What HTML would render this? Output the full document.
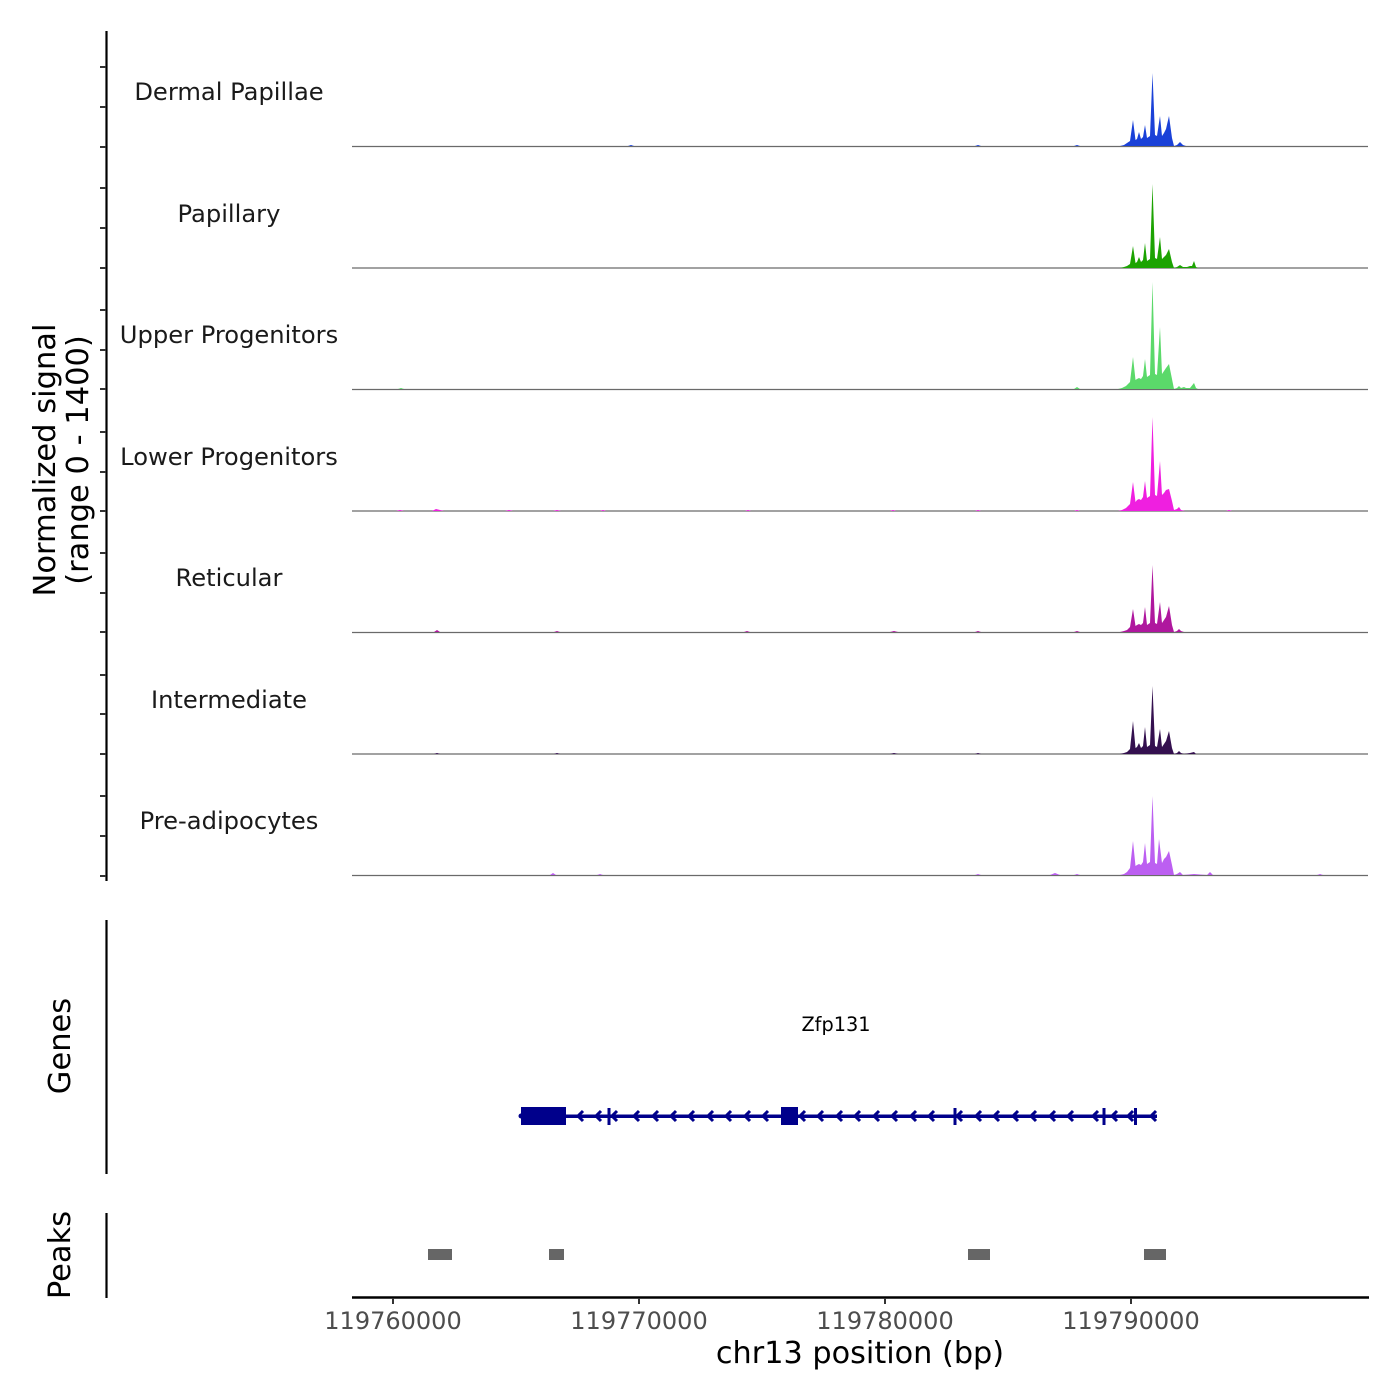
<!DOCTYPE html>
<html><head><meta charset="utf-8"><style>
html,body{margin:0;padding:0;background:#fff;}
svg{display:block;}
text{font-family:"DejaVu Sans","Liberation Sans",sans-serif;}
</style></head><body>
<svg width="1400" height="1400" viewBox="0 0 1400 1400" xmlns="http://www.w3.org/2000/svg">
<rect width="1400" height="1400" fill="#fff"/>

<!-- Left axis for signal tracks -->
<line x1="106.5" y1="31" x2="106.5" y2="881" stroke="#000" stroke-width="2.2"/>
<g stroke="#333" stroke-width="2">
<line x1="100" y1="67" x2="106" y2="67"/><line x1="100" y1="107" x2="106" y2="107"/><line x1="100" y1="147" x2="106" y2="147"/>
<line x1="100" y1="188" x2="106" y2="188"/><line x1="100" y1="228" x2="106" y2="228"/><line x1="100" y1="268" x2="106" y2="268"/>
<line x1="100" y1="310" x2="106" y2="310"/><line x1="100" y1="350" x2="106" y2="350"/><line x1="100" y1="389" x2="106" y2="389"/>
<line x1="100" y1="432" x2="106" y2="432"/><line x1="100" y1="472" x2="106" y2="472"/><line x1="100" y1="511" x2="106" y2="511"/>
<line x1="100" y1="553" x2="106" y2="553"/><line x1="100" y1="593" x2="106" y2="593"/><line x1="100" y1="632" x2="106" y2="632"/>
<line x1="100" y1="675" x2="106" y2="675"/><line x1="100" y1="714" x2="106" y2="714"/><line x1="100" y1="754" x2="106" y2="754"/>
<line x1="100" y1="796" x2="106" y2="796"/><line x1="100" y1="836" x2="106" y2="836"/><line x1="100" y1="876" x2="106" y2="876"/>
</g>

<!-- Y axis title -->
<text transform="translate(55,460) rotate(-90)" text-anchor="middle" font-size="30.5" fill="#000">Normalized signal</text>
<text transform="translate(88,460) rotate(-90)" text-anchor="middle" font-size="30.5" fill="#000">(range 0 - 1400)</text>

<!-- Track labels -->
<g font-size="24.2" fill="#1a1a1a" text-anchor="middle">
<text x="229" y="100">Dermal Papillae</text>
<text x="229" y="222">Papillary</text>
<text x="229" y="343">Upper Progenitors</text>
<text x="229" y="465">Lower Progenitors</text>
<text x="229" y="586">Reticular</text>
<text x="229" y="708">Intermediate</text>
<text x="229" y="829">Pre-adipocytes</text>
</g>

<!-- Baselines -->
<g stroke="#6a6a6a" stroke-width="1.3">
<line x1="352" y1="146.5" x2="1368" y2="146.5"/>
<line x1="352" y1="268" x2="1368" y2="268"/>
<line x1="352" y1="389.5" x2="1368" y2="389.5"/>
<line x1="352" y1="511" x2="1368" y2="511"/>
<line x1="352" y1="632.5" x2="1368" y2="632.5"/>
<line x1="352" y1="754" x2="1368" y2="754"/>
<line x1="352" y1="875.5" x2="1368" y2="875.5"/>
</g>

<!-- Dermal Papillae -->
<g fill="#1a41d8">
<polygon points="1120,146 1124,145 1127,143 1130,141 1133,120 1135.5,140 1137,139 1139,132 1141,139 1143,137 1145,125 1147,138 1150,136 1152.5,73 1155,135 1157,136 1160,116 1162,136 1164,133 1166,129 1169,116 1172,138 1174,146 1177,145 1180,142 1183,145 1186,146"/>
<polygon points="628,146 631,145 634,146"/><polygon points="975,146 978,145 981,146"/><polygon points="1074,146 1077,145 1080,146"/>
</g>
<!-- Papillary -->
<g fill="#1ca302">
<polygon points="1120,268 1124,267 1127,266 1130,264 1133,246 1135.5,263 1137,262 1139,257 1141,262 1143,260 1145,243 1147,261 1150,259 1152.5,184 1155,258 1157,259 1160,237 1162,259 1164,257 1166,255 1169,249 1172,262 1174,268 1177,267 1180,265 1183,267 1187,267 1190,266 1192,266 1194,261 1196,267 1198,268"/>
</g>
<!-- Upper Progenitors -->
<g fill="#5bd96a">
<polygon points="1118,389 1122,388 1126,386 1130,382 1133,357 1135.5,380 1137,379 1139,378 1141,379 1143,376 1145,359 1147,377 1150,375 1152.5,282 1155,374 1157,375 1160,327 1162,374 1164,371 1166,368 1169,364 1172,379 1174,389 1177,388 1179,386 1181,388 1184,387 1186,388 1190,388 1194,383 1196,388 1198,389"/>
<polygon points="1074,389 1077,387 1080,389"/><polygon points="398,389 401,388 404,389"/>
</g>
<!-- Lower Progenitors -->
<g fill="#ef1fe0">
<polygon points="1118,511 1122,510 1126,508 1130,504 1133,482 1135.5,502 1137,500 1139,499 1141,500 1143,497 1145,481 1147,498 1150,496 1152.5,417 1155,495 1157,496 1160,461 1162,495 1164,493 1166,490 1169,489 1172,501 1174,510 1177,509 1179,507 1181,510 1185,511"/>
<polygon points="396,511 400,510 404,511"/><polygon points="432,511 436,509 440,510 444,511"/><polygon points="505,511 509,510 513,511"/>
<polygon points="553,511 557,510 561,511"/><polygon points="600,511 603,510 606,511"/><polygon points="745,511 748,510 751,511"/>
<polygon points="890,511 893,510 896,511"/><polygon points="975,511 978,510 981,511"/><polygon points="1074,511 1077,510 1080,511"/>
<polygon points="1226,511 1229,510 1232,511"/>
</g>
<!-- Reticular -->
<g fill="#af179e">
<polygon points="1120,632 1124,631 1127,630 1130,627 1133,609 1135.5,626 1137,625 1139,624 1141,625 1143,623 1145,607 1147,625 1150,623 1152.5,565 1155,623 1157,624 1160,602 1162,623 1164,620 1166,617 1169,606 1172,625 1174,632 1177,631 1179,629 1181,631 1184,632"/>
<polygon points="434,632 437,630 440,632"/><polygon points="554,632 557,631 560,632"/><polygon points="744,632 747,631 750,632"/>
<polygon points="890,632 894,631 898,632"/><polygon points="975,632 978,631 981,632"/><polygon points="1074,632 1077,631 1080,632"/>
</g>
<!-- Intermediate -->
<g fill="#34104f">
<polygon points="1120,754 1124,753 1127,752 1130,749 1133,721 1135.5,748 1137,747 1139,743 1141,748 1143,746 1145,727 1147,747 1150,745 1152.5,686 1155,746 1157,747 1160,729 1162,747 1164,744 1166,741 1169,731 1172,748 1174,754 1177,753 1179,751 1181,753 1184,754 1190,753 1194,752 1196,754"/>
<polygon points="434,754 437,753 440,754"/><polygon points="554,754 557,753 560,754"/><polygon points="890,754 894,753 898,754"/>
<polygon points="975,754 978,753 981,754"/>
</g>
<!-- Pre-adipocytes -->
<g fill="#bc5ff1">
<polygon points="1120,875 1124,874 1127,872 1130,868 1133,841 1135.5,866 1137,865 1139,864 1141,865 1143,862 1145,843 1147,864 1150,862 1152.5,796 1155,863 1157,864 1159,839 1162,863 1164,859 1166,857 1169,851 1172,865 1174,875 1177,874 1180,872 1183,875 1194,874 1207,875 1210,872 1213,875"/>
<polygon points="550,875 553,873 556,875"/><polygon points="597,875 600,874 603,875"/><polygon points="975,875 978,874 981,875"/>
<polygon points="1050,875 1055,873 1060,875"/><polygon points="1074,875 1077,874 1080,875"/><polygon points="1317,875 1320,874 1323,875"/>
</g>

<!-- Genes axis -->
<line x1="106.5" y1="920" x2="106.5" y2="1174" stroke="#000" stroke-width="2.2"/>
<text transform="translate(70,1046) rotate(-90)" text-anchor="middle" font-size="30.5" fill="#000">Genes</text>

<!-- Gene model -->
<g fill="#00008b" stroke="none">
<rect x="521" y="1114.5" width="636" height="3.5"/>
<rect x="521" y="1107" width="45" height="18"/>
<rect x="781" y="1107" width="17" height="18"/>
<rect x="607.5" y="1108" width="3" height="17"/>
<rect x="953.5" y="1108" width="3" height="17"/>
<rect x="1102.5" y="1108" width="3" height="17"/>
<rect x="1134" y="1108" width="3" height="17"/>
<circle cx="521" cy="1116" r="2.5"/>
</g>
<g fill="none" stroke="#00008b" stroke-width="3" stroke-linejoin="miter">
<path d="M583,1111 L578,1116 L583,1121"/>
<path d="M601,1111 L596,1116 L601,1121"/>
<path d="M617,1111 L612,1116 L617,1121"/>
<path d="M639,1111 L634,1116 L639,1121"/>
<path d="M658,1111 L653,1116 L658,1121"/>
<path d="M676,1111 L671,1116 L676,1121"/>
<path d="M694,1111 L689,1116 L694,1121"/>
<path d="M713,1111 L708,1116 L713,1121"/>
<path d="M731,1111 L726,1116 L731,1121"/>
<path d="M750,1111 L745,1116 L750,1121"/>
<path d="M768,1111 L763,1116 L768,1121"/>
<path d="M805,1111 L800,1116 L805,1121"/>
<path d="M823,1111 L818,1116 L823,1121"/>
<path d="M842,1111 L837,1116 L842,1121"/>
<path d="M860,1111 L855,1116 L860,1121"/>
<path d="M879,1111 L874,1116 L879,1121"/>
<path d="M897,1111 L892,1116 L897,1121"/>
<path d="M916,1111 L911,1116 L916,1121"/>
<path d="M934,1111 L929,1116 L934,1121"/>
<path d="M962,1111 L957,1116 L962,1121"/>
<path d="M981,1111 L976,1116 L981,1121"/>
<path d="M999,1111 L994,1116 L999,1121"/>
<path d="M1018,1111 L1013,1116 L1018,1121"/>
<path d="M1036,1111 L1031,1116 L1036,1121"/>
<path d="M1055,1111 L1050,1116 L1055,1121"/>
<path d="M1073,1111 L1068,1116 L1073,1121"/>
<path d="M1098,1111 L1093,1116 L1098,1121"/>
<path d="M1117,1111 L1112,1116 L1117,1121"/>
<path d="M1133,1111 L1128,1116 L1133,1121"/>
<path d="M1156,1111 L1151,1116 L1156,1121"/>
</g>
<text x="836" y="1031" text-anchor="middle" font-size="19.3" fill="#000">Zfp131</text>

<!-- Peaks axis -->
<line x1="106.5" y1="1213" x2="106.5" y2="1298" stroke="#000" stroke-width="2.2"/>
<text transform="translate(70,1255) rotate(-90)" text-anchor="middle" font-size="30.5" fill="#000">Peaks</text>
<g fill="#666">
<rect x="428" y="1249" width="24" height="11"/>
<rect x="549" y="1249" width="15" height="11"/>
<rect x="968" y="1249" width="22" height="11"/>
<rect x="1144" y="1249" width="22" height="11"/>
</g>

<!-- X axis -->
<line x1="352" y1="1297.5" x2="1369" y2="1297.5" stroke="#000" stroke-width="2.4"/>
<g stroke="#333" stroke-width="2">
<line x1="393" y1="1298" x2="393" y2="1304"/>
<line x1="639" y1="1298" x2="639" y2="1304"/>
<line x1="885" y1="1298" x2="885" y2="1304"/>
<line x1="1131" y1="1298" x2="1131" y2="1304"/>
</g>
<g font-size="24" fill="#4d4d4d" text-anchor="middle">
<text x="393" y="1329">119760000</text>
<text x="639" y="1329">119770000</text>
<text x="885" y="1329">119780000</text>
<text x="1131" y="1329">119790000</text>
</g>
<text x="860" y="1363" text-anchor="middle" font-size="30.3" fill="#000">chr13 position (bp)</text>
</svg>
</body></html>
